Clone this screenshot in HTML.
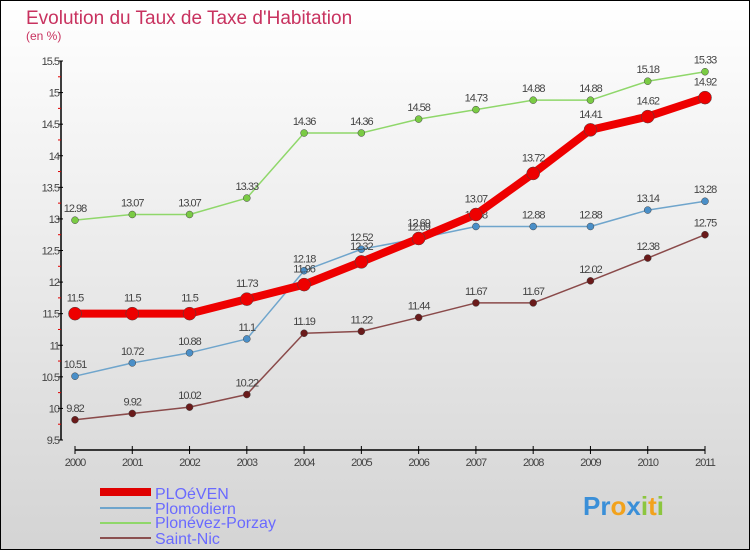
<!DOCTYPE html>
<html><head><meta charset="utf-8"><style>
html,body{margin:0;padding:0}
body{width:750px;height:550px;overflow:hidden;font-family:"Liberation Sans",sans-serif}
svg{display:block}
</style></head><body>
<svg id="chart" width="750" height="550" xmlns="http://www.w3.org/2000/svg">
<defs><linearGradient id="bg" x1="0" y1="0" x2="0" y2="1"><stop offset="0" stop-color="#ffffff"/><stop offset="1" stop-color="#d4d4d4"/></linearGradient></defs>
<rect x="0.5" y="0.5" width="749" height="549" fill="url(#bg)" stroke="#000"/>
<text x="26" y="24" font-size="19" fill="#c8325f" font-weight="300">Evolution du Taux de Taxe d'Habitation</text>
<text x="26" y="40" font-size="12" fill="#c8325f">(en %)</text>
<g id="axes"></g>
<g id="series"></g>
<g id="legend">
<rect x="100" y="488" width="51" height="8" fill="#e00000"/>
<text x="155" y="499" font-size="16" fill="#6a6aff">PLOéVEN</text>
<rect x="100" y="507" width="51" height="2" fill="#6fa5cc"/>
<text x="155" y="514" font-size="16" fill="#6a6aff">Plomodiern</text>
<rect x="100" y="522" width="51" height="2" fill="#8fd76a"/>
<text x="155" y="528" font-size="16" fill="#6a6aff">Plonévez-Porzay</text>
<rect x="100" y="537" width="51" height="2" fill="#8a5050"/>
<text x="155" y="544" font-size="16" fill="#6a6aff">Saint-Nic</text>
</g>
<g font-size="26" font-weight="bold">
<text x="583" y="515"><tspan fill="#3a8fd8">Pr</tspan><tspan fill="#f2a21c">o</tspan><tspan fill="#3a8fd8">x</tspan><tspan fill="#8cc63f">i</tspan><tspan fill="#f2a21c">t</tspan><tspan fill="#8cc63f">i</tspan></text>
</g>
</svg>
<script>
const years=[2000,2001,2002,2003,2004,2005,2006,2007,2008,2009,2010,2011];
const ploeven=[11.5,11.5,11.5,11.73,11.96,12.32,12.69,13.07,13.72,14.41,14.62,14.92];
const plomodiern=[10.51,10.72,10.88,11.1,12.18,12.52,12.69,12.88,12.88,12.88,13.14,13.28];
const plonevez=[12.98,13.07,13.07,13.33,14.36,14.36,14.58,14.73,14.88,14.88,15.18,15.33];
const saintNic=[9.82,9.92,10.02,10.22,11.19,11.22,11.44,11.67,11.67,12.02,12.38,12.75];
const yTicks=[9.5,10,10.5,11,11.5,12,12.5,13,13.5,14,14.5,15,15.5];
const NS="http://www.w3.org/2000/svg";
const X=i=>75+i*(630/11);
const Y=v=>440-(v-9.5)*(379/6);
function mk(tag,attrs,parent,text){const e=document.createElementNS(NS,tag);for(const k in attrs)e.setAttribute(k,attrs[k]);if(text!==undefined)e.textContent=text;parent.appendChild(e);return e;}
const axes=document.getElementById('axes');
let e=mk('line',{x1:61,y1:Y(15.5),x2:61,y2:Y(9.5),stroke:'#000','stroke-width':1.5},axes);


e=mk('line',{x1:75,y1:450,x2:705,y2:450,stroke:'#000','stroke-width':1.5},axes);


yTicks.forEach((t,i)=>{
  mk('line',{x1:58,y1:Y(t),x2:63,y2:Y(t),stroke:'#000'},axes);
  if(i<yTicks.length-1)mk('line',{x1:58,y1:Y(t+0.25),x2:61,y2:Y(t+0.25),stroke:'#e00000'},axes);
  const l=mk('text',{x:59,y:Y(t)+4,'font-size':11,fill:'#444','text-anchor':'end','letter-spacing':'-1'},axes,String(t));
  
  
});
years.forEach((yr,i)=>{
  mk('line',{x1:X(i),y1:446,x2:X(i),y2:454,stroke:'#000'},axes);
  const l=mk('text',{x:X(i),y:466,'font-size':11,fill:'#444','text-anchor':'middle','letter-spacing':'-1'},axes,String(yr));
  
  
});
const ser=document.getElementById('series');
function draw(vals,name,color,dot,w,r,labelDy){
  const g=mk('g',{},ser);
  
  
  const p=mk('polyline',{points:vals.map((v,i)=>X(i)+','+Y(v)).join(' '),fill:'none',stroke:color,'stroke-width':w,'stroke-linejoin':'round'},g);
  
  
  vals.forEach((v,i)=>{
    const c=mk('circle',{cx:X(i),cy:Y(v),r:r,fill:dot,stroke:'#444','stroke-width':0.5},g);
    
    
    const t=mk('text',{x:X(i),y:Y(v)+labelDy,'font-size':11,fill:'#444','text-anchor':'middle','letter-spacing':'-1'},g,String(v));
    
    
  });
}
draw(saintNic,'saint-nic','#8a4a4a','#6a1a1a',1.5,3.5,-8);
draw(plomodiern,'plomodiern','#6fa5cc','#4a8fc8',1.5,3.5,-8);
draw(plonevez,'plonevez-porzay','#8fd76a','#7acb44',1.5,3.5,-8);
draw(ploeven,'ploeven','#ee0000','#ee0000',8,6.5,-12);
</script>
</body></html>
